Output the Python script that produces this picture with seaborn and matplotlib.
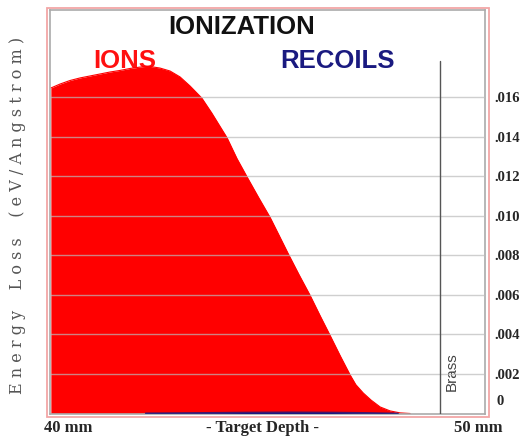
import matplotlib
matplotlib.use("Agg")
import matplotlib.pyplot as plt
import seaborn as sns
import pandas as pd
from matplotlib.patches import Rectangle

# ---- data ----
depth_mm = [40.02, 40.23, 40.46, 40.69, 40.92, 41.15, 41.38, 41.61, 41.84, 42.07,
            42.30, 42.53, 42.76, 42.99, 43.22, 43.49, 43.72, 44.07, 44.30, 44.55,
            44.80, 45.06, 45.26, 45.47, 45.72, 45.98, 46.21, 46.44, 46.67, 46.90,
            47.03, 47.20, 47.38, 47.59, 47.82, 48.05, 48.28]
ions = [0.01648, 0.01668, 0.01686, 0.01699, 0.01709, 0.01719, 0.01729, 0.01737, 0.01747, 0.01754,
        0.01757, 0.01749, 0.01734, 0.01704, 0.01658, 0.01597, 0.01521, 0.01396, 0.01290, 0.01190,
        0.01092, 0.00993, 0.00905, 0.00812, 0.00705, 0.00598, 0.00495, 0.00395, 0.00293, 0.00195,
        0.00146, 0.00104, 0.00068, 0.00033, 0.00013, 0.00003, 0.0]
recoil_depth = [42.2, 43.4, 44.5, 45.5, 46.5, 47.3, 48.0]
recoils = [0.00001, 0.00003, 0.00005, 0.00006, 0.00005, 0.00003, 0.0]
ytick_vals = [0.002, 0.004, 0.006, 0.008, 0.010, 0.012, 0.014, 0.016]
ytick_labels = [".002", ".004", ".006", ".008", ".010", ".012", ".014", ".016"]
brass_depth = 48.97
brass_top = 0.01785

sns.set_theme(style="white")
plt.rcParams['font.family'] = ['DejaVu Sans']

W, H = 528, 437
fig = plt.figure(figsize=(W / 100, H / 100), dpi=100)
fig.patch.set_facecolor("white")
ax = fig.add_axes([50 / W, 1 - 413.5 / H, 435 / W, 403.5 / H])
ax.set_facecolor("white")

df = pd.DataFrame({"depth": depth_mm, "ions": ions})
dr = pd.DataFrame({"depth": recoil_depth, "recoils": recoils})

ax.fill_between(df["depth"], 0, df["ions"], color="#ff0000", lw=0, zorder=2)
sns.lineplot(data=df, x="depth", y="ions", ax=ax, color="#ff0000", lw=0.8, zorder=2)
ax.fill_between(dr["depth"], 0, dr["recoils"], color="#1a1a80", lw=0, zorder=3)
sns.lineplot(data=dr, x="depth", y="recoils", ax=ax, color="#1a1a80", lw=1.2, alpha=0.8, zorder=3)

ax.set_xlim(40, 50)
ax.set_ylim(0, 0.02043)

# grid lines
for v in ytick_vals:
    ax.axhline(v, color="#bbbbbb", lw=1.0, alpha=0.7, zorder=4)

# brass boundary
ax.plot([brass_depth, brass_depth], [0, brass_top], color="#555555", lw=1.0, zorder=5)
ax.text(brass_depth + 0.26, 0.0021, "Brass", rotation=90, ha="center", va="center",
        fontsize=11, color="#444444", family="Liberation Sans")

# y ticks on right
ax.yaxis.tick_right()
ax.set_yticks(ytick_vals)
ax.set_yticklabels(ytick_labels, family="Liberation Serif", fontweight="bold", fontsize=10.5)
ax.tick_params(axis="y", length=0, pad=7)
ax.text(1.026, 0.00063, "0", transform=ax.get_yaxis_transform(), ha="left", va="center",
        family="Liberation Serif", fontweight="bold", fontsize=10.5)
ax.set_xticks([])
ax.set_xlabel("")
ax.set_ylabel("")

for s in ax.spines.values():
    s.set_color("#aaaaaa")
    s.set_linewidth(1.2)

# outer pink frame
fig.patches.append(Rectangle((46.5 / W, 1 - 417 / H), (488.5 - 46.5) / W, (417 - 8) / H,
                             transform=fig.transFigure, fill=False, edgecolor="#f2a6a6", lw=1.3))

def fx(x):
    return x / W

def fy(y):
    return 1 - y / H

ax.text(fx(242), fy(27), "IONIZATION", ha="center", va="center", fontsize=18.5,
        fontweight="bold", family="Liberation Sans", color="#111111",
        transform=fig.transFigure, zorder=1)
ax.text(fx(125), fy(61), "IONS", ha="center", va="center", fontsize=18.5,
        fontweight="bold", family="Liberation Sans", color="#ff1010",
        transform=fig.transFigure, zorder=1)
ax.text(fx(338), fy(61), "RECOILS", ha="center", va="center", fontsize=18.5,
        fontweight="bold", family="Liberation Sans", color="#1a1a80",
        transform=fig.transFigure, zorder=1)

fig.text(fx(68), fy(428), "40 mm", ha="center", va="center", fontsize=12,
         fontweight="bold", family="Liberation Serif")
fig.text(fx(263), fy(428), "- Target Depth -", ha="center", va="center", fontsize=12,
         fontweight="bold", family="Liberation Serif")
fig.text(fx(478), fy(428), "50 mm", ha="center", va="center", fontsize=12,
         fontweight="bold", family="Liberation Serif")

fig.text(fx(18), fy(215), " ".join("Energy Loss (eV/Angstrom)").replace("   ", "    "),
         rotation=90, ha="center", va="center", fontsize=11.5, family="DejaVu Serif",
         color="#555555")

fig.savefig("out.png", dpi=100)
